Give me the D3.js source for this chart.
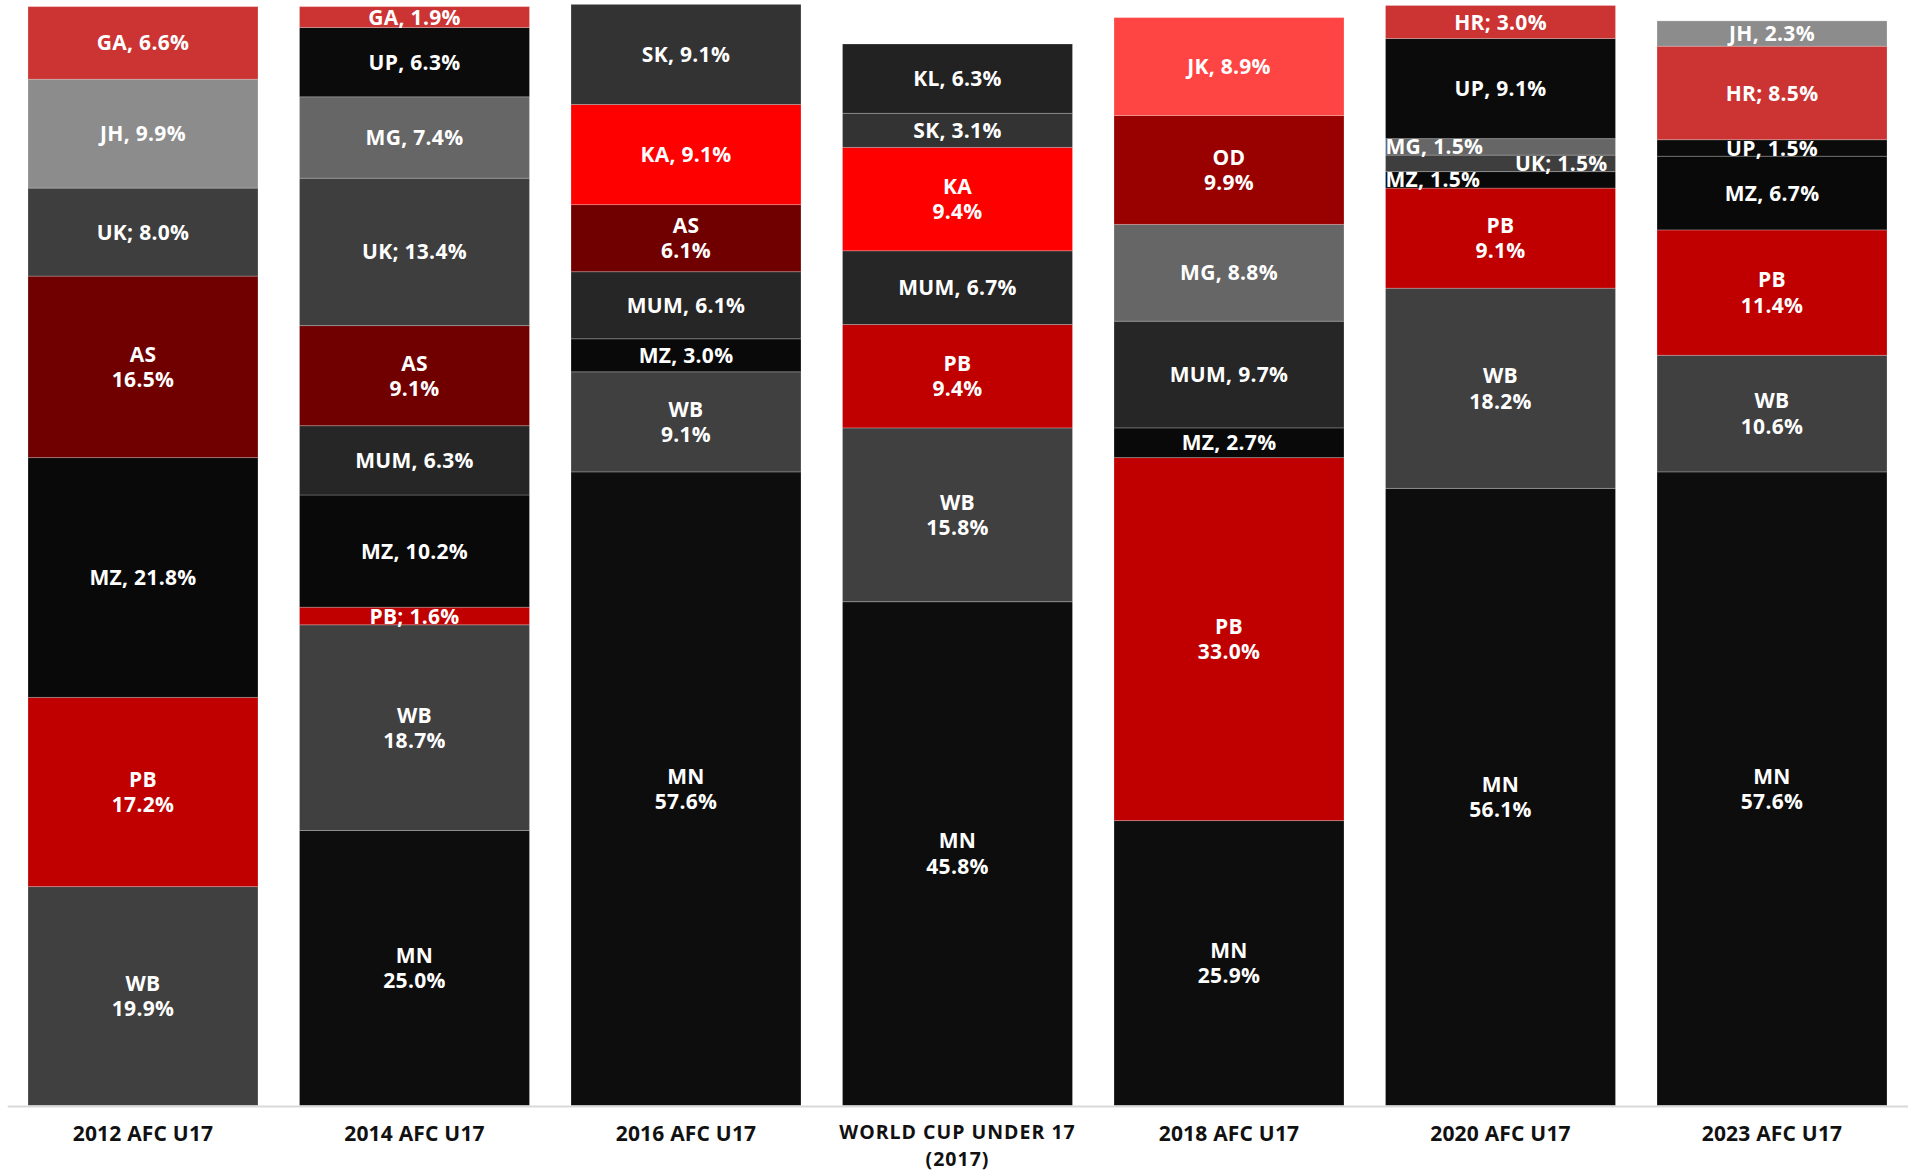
<!DOCTYPE html>
<html>
<head>
<meta charset="utf-8">
<script src="https://cdn.jsdelivr.net/npm/d3@7"></script>
<style>
  html, body { margin: 0; padding: 0; background: #ffffff; }
  svg { display: block; }
</style>
</head>
<body>
<svg id="chart" width="1908" height="1171"></svg>
<script>
// ---------------- DATA ----------------
const categories = ["2012 AFC U17", "2014 AFC U17", "2016 AFC U17", "WORLD CUP UNDER 17\n(2017)", "2018 AFC U17", "2020 AFC U17", "2023 AFC U17"];

// stacking order, bottom to top
const seriesKeys = ["MN", "WB", "PB", "MZ", "MUM", "AS", "KA", "UK", "MG", "OD", "SK", "KL", "UP", "HR", "JK", "JH", "GA"];

// share (%) per category, in the order of `categories` (0 = not present)
const MN  = [0,    25.0, 57.6, 45.8, 25.9, 56.1, 57.6];
const WB  = [19.9, 18.7, 9.1,  15.8, 0,    18.2, 10.6];
const PB  = [17.2, 1.6,  0,    9.4,  33.0, 9.1,  11.4];
const MZ  = [21.8, 10.2, 3.0,  0,    2.7,  1.5,  6.7];
const MUM = [0,    6.3,  6.1,  6.7,  9.7,  0,    0];
const AS  = [16.5, 9.1,  6.1,  0,    0,    0,    0];
const KA  = [0,    0,    9.1,  9.4,  0,    0,    0];
const UK  = [8.0,  13.4, 0,    0,    0,    1.5,  0];
const MG  = [0,    7.4,  0,    0,    8.8,  1.5,  0];
const OD  = [0,    0,    0,    0,    9.9,  0,    0];
const SK  = [0,    0,    9.1,  3.1,  0,    0,    0];
const KL  = [0,    0,    0,    6.3,  0,    0,    0];
const UP  = [0,    6.3,  0,    0,    0,    9.1,  1.5];
const HR  = [0,    0,    0,    0,    0,    3.0,  8.5];
const JK  = [0,    0,    0,    0,    8.9,  0,    0];
const JH  = [9.9,  0,    0,    0,    0,    0,    2.3];
const GA  = [6.6,  1.9,  0,    0,    0,    0,    0];

const seriesValues = { MN, WB, PB, MZ, MUM, AS, KA, UK, MG, OD, SK, KL, UP, HR, JK, JH, GA };

// label text conventions seen in the original
const semicolonKeys = ["UK", "HR", "PB"];
const twoLineLabels = [
  ["AS", "PB", "WB"],
  ["AS", "WB", "MN"],
  ["AS", "WB", "MN"],
  ["KA", "PB", "WB", "MN"],
  ["OD", "PB", "MN"],
  ["PB", "WB", "MN"],
  ["PB", "WB", "MN"]
];

// ---------------- STYLE ----------------
const colors = {
  MN: "#0d0d0d", WB: "#404040", PB: "#c00000", MZ: "#090909", MUM: "#262626",
  AS: "#700000", KA: "#ff0000", UK: "#3e3e3e", MG: "#666666", OD: "#990000",
  SK: "#333333", KL: "#222222", UP: "#0b0b0b", HR: "#cc3333", JK: "#ff4444",
  JH: "#8c8c8c", GA: "#cc3333"
};
// special horizontal placement for the thin slices of 2020
const labelAlign = { "5|MG": "start", "5|UK": "end", "5|MZ": "start" };

const W = 1908, H = 1171;
const baseY = 1105.5;
const svg = d3.select("#chart");

const rows = categories.map((c, i) => {
  const r = { cat: c };
  seriesKeys.forEach(k => { r[k] = seriesValues[k][i]; });
  return r;
});

const stack = d3.stack().keys(seriesKeys);
const layers = stack(rows);

const x = d3.scaleBand()
  .domain(categories)
  .range([7.25, 1907.75])
  .paddingInner(0.1529)
  .paddingOuter(0.0764);

const y = d3.scaleLinear().domain([0, 100]).range([baseY, 5.5]);

const fontFam = "'Open Sans', 'DejaVu Sans', sans-serif";

const g = svg.append("g");

// bars
layers.forEach(layer => {
  const key = layer.key;
  g.selectAll(null)
    .data(layer.filter(d => d.data[key] > 0))
    .enter().append("rect")
    .attr("x", d => x(d.data.cat))
    .attr("width", x.bandwidth())
    .attr("y", d => y(d[1]))
    .attr("height", d => y(d[0]) - y(d[1]))
    .attr("fill", colors[key])
    .attr("stroke", "rgba(255,255,255,0.22)")
    .attr("stroke-width", 1);
});

// labels
const fs = 21;
layers.forEach(layer => {
  const key = layer.key;
  layer.forEach((d, i) => {
    const v = d.data[key];
    if (!(v > 0)) return;
    const cat = d.data.cat;
    const cy = (y(d[0]) + y(d[1])) / 2;
    const pct = v.toFixed(1) + "%";
    const sep = semicolonKeys.includes(key) ? ";" : ",";
    const align = labelAlign[i + "|" + key] || "middle";
    let tx = x(cat) + x.bandwidth() / 2;
    if (align === "start") tx = x(cat);
    if (align === "end") tx = x(cat) + x.bandwidth() - 8;
    const t = g.append("text")
      .attr("x", tx)
      .attr("text-anchor", align)
      .attr("fill", "#ffffff")
      .attr("font-family", fontFam)
      .attr("font-weight", 700)
      .attr("font-size", fs)
      .attr("letter-spacing", 0.3);
    if (twoLineLabels[i].includes(key)) {
      t.append("tspan").attr("x", tx).attr("y", cy - 12.7).attr("dy", "0.36em").text(key);
      t.append("tspan").attr("x", tx).attr("y", cy + 12.7).attr("dy", "0.36em").text(pct);
    } else {
      t.attr("y", cy).attr("dy", "0.36em").text(key + sep + " " + pct);
    }
  });
});

// x axis
const axis = d3.axisBottom(x).tickSize(0).tickSizeOuter(0).tickFormat("");
const ax = svg.append("g")
  .attr("transform", `translate(0,${baseY + 0.5})`)
  .call(axis);
ax.select(".domain").attr("stroke", "#d9d9d9").attr("stroke-width", 2);
ax.selectAll(".tick text").remove();
ax.selectAll(".tick").each(function(c) {
  const lines = c.split("\n");
  const multi = lines.length > 1;
  const t = d3.select(this).append("text")
    .attr("text-anchor", "middle")
    .attr("fill", "#111111")
    .attr("font-family", fontFam)
    .attr("font-weight", 700)
    .attr("font-size", multi ? 19.5 : 21)
    .attr("letter-spacing", multi ? 1.0 : 0.2);
  lines.forEach((ln, j) => {
    t.append("tspan").attr("x", 0).attr("y", multi ? 33 + j * 26.5 : 35).text(ln);
  });
});
</script>
</body>
</html>
